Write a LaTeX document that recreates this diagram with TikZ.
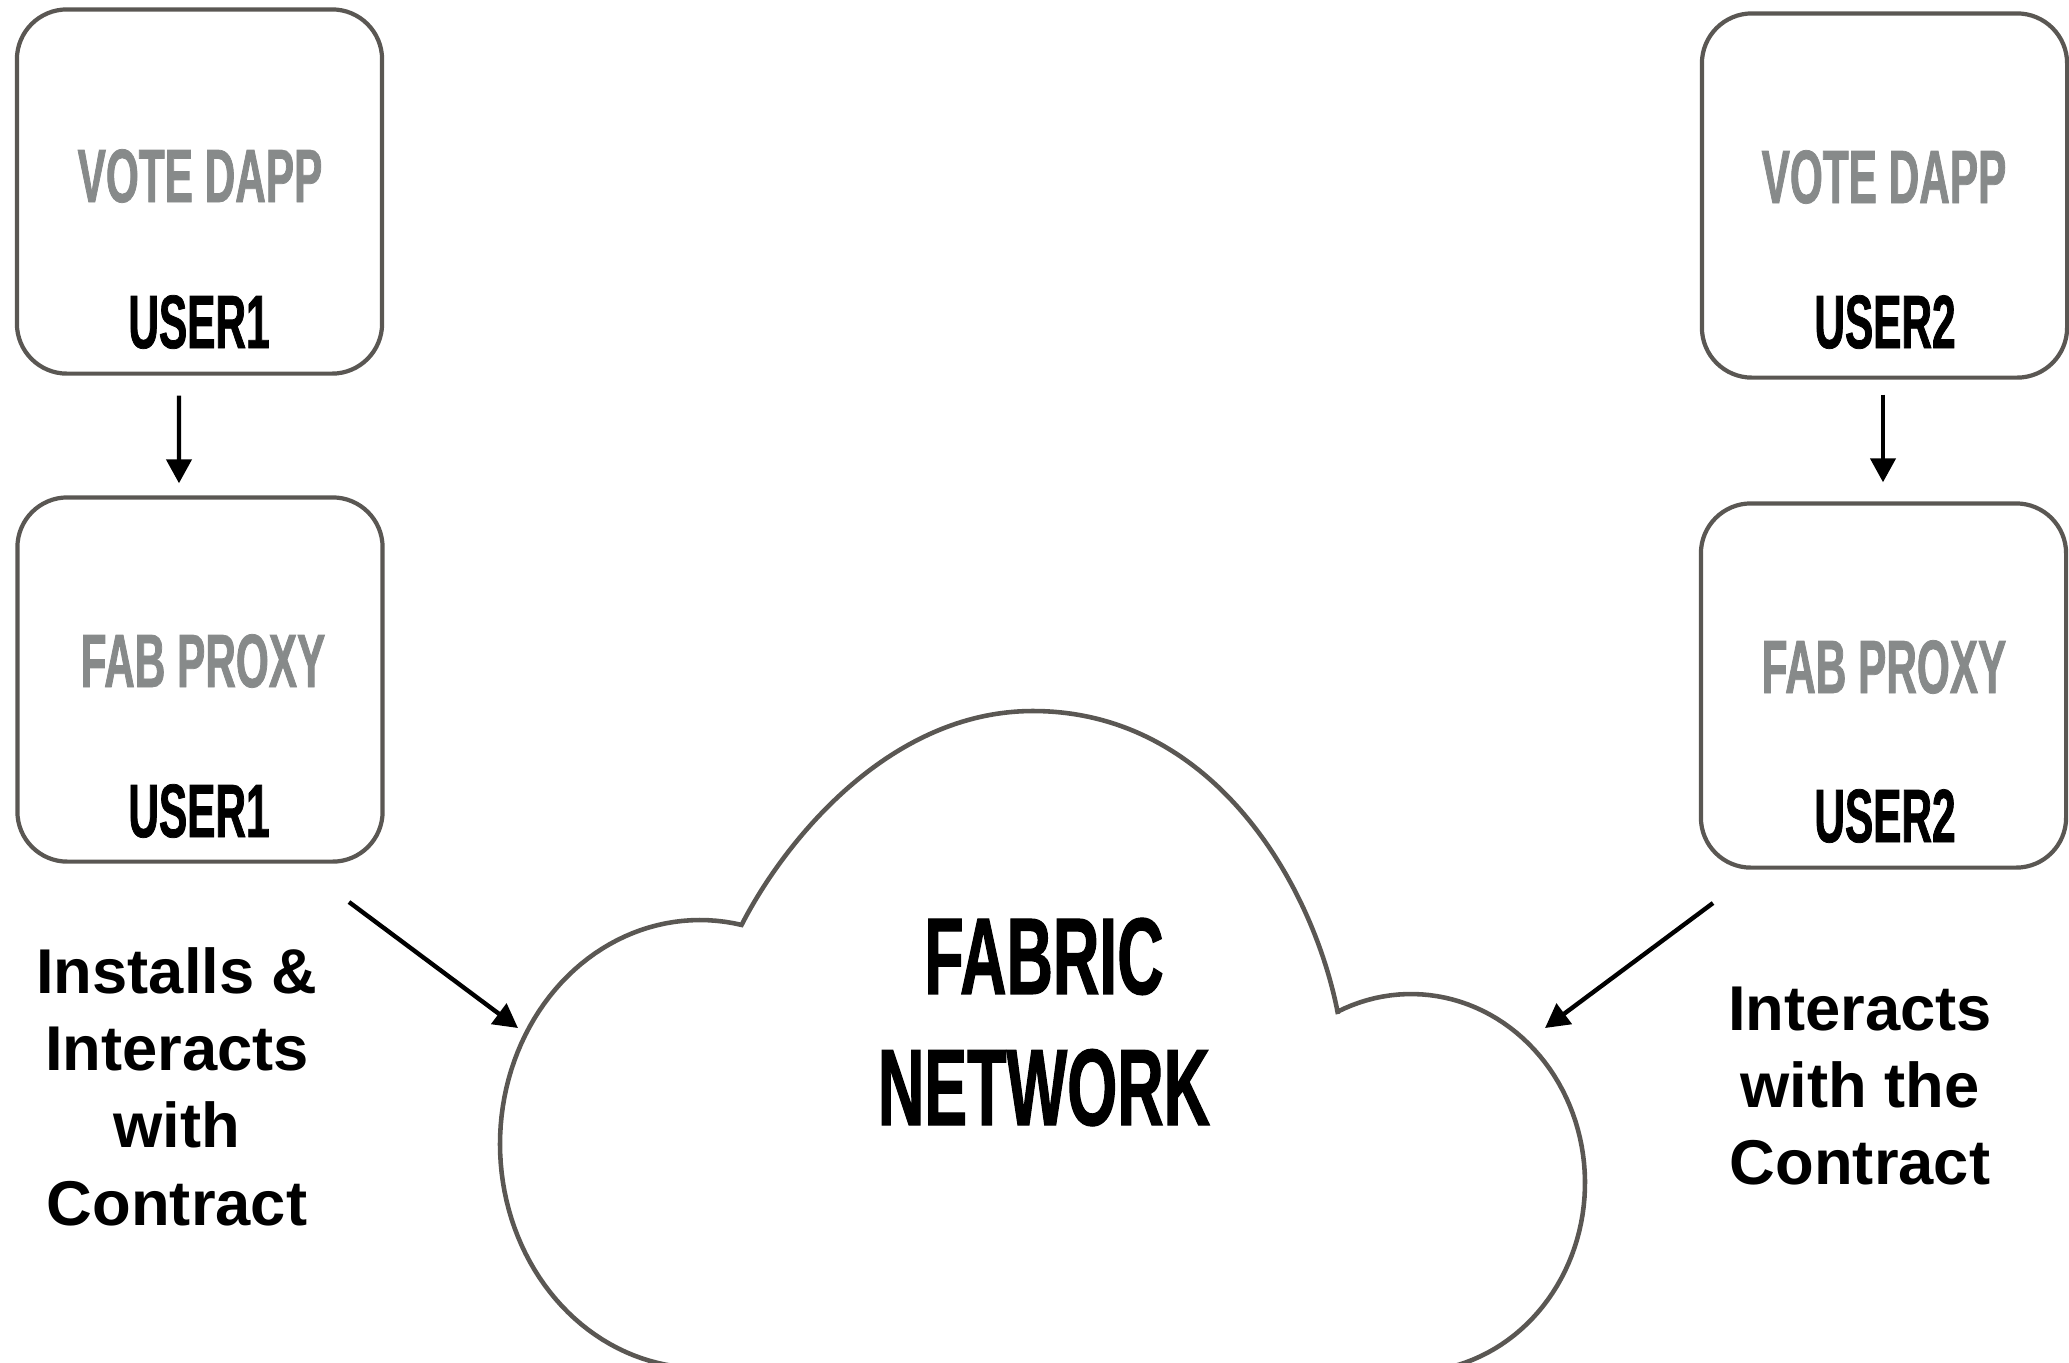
\documentclass[tikz,border=0pt]{standalone}
\usepackage{fontspec}
\usepackage{xcolor}
\usepackage{tikz}
\usetikzlibrary{arrows.meta, positioning}
\setmainfont{Liberation Sans}
\newfontfamily\dinfont{Liberation Sans}[FakeStretch=0.56, FakeBold=1]
\newfontfamily\dinbig{Liberation Sans}[FakeStretch=0.59, FakeBold=1]
\definecolor{boxline}{HTML}{5A5753}
\definecolor{dimgrey}{HTML}{878A8A}

\tikzset{
  appbox/.style={draw=boxline, line width=1.2pt, rounded corners=0.5cm,
    minimum width=3.65cm, minimum height=3.64cm, inner sep=0pt},
  greylbl/.style={font=\dinfont\bfseries\fontsize{21.5}{24}\selectfont,
    text=dimgrey, anchor=base, inner sep=0pt},
  userlbl/.style={font=\dinfont\bfseries\fontsize{21.5}{24}\selectfont,
    anchor=base, inner sep=0pt},
  cloudlbl/.style={font=\dinbig\bfseries\fontsize{31}{37.3}\selectfont,
    align=center, inner sep=0pt},
  note/.style={font=\bfseries\fontsize{18}{22}\selectfont,
    align=center, inner sep=0pt},
  cloudline/.style={draw=boxline, line width=1.3pt},
  flow/.style={-{Triangle[length=0.24cm, width=0.25cm]}, line width=1.25pt},
}

\begin{document}
\begin{tikzpicture}[x=0.01cm, y=-0.01cm]
        \useasboundingbox (0,0) rectangle (2069,1362);
        % User 1 side
        \node[appbox] (dappA) at (199.5,191.5) {};
        \node[greylbl] (dappAname) at (200,202) {VOTE DAPP};
        \node[userlbl] (dappAuser) at (199,348) {USER1};
        \node[appbox] (proxyA) at (200,679.5) {};
        \node[greylbl] (proxyAname) at (203,687) {FAB PROXY};
        \node[userlbl] (proxyAuser) at (199,837) {USER1};
        % User 2 side
        \node[appbox] (dappB) at (1884.5,195.5) {};
        \node[greylbl] (dappBname) at (1884,203) {VOTE DAPP};
        \node[userlbl] (dappBuser) at (1885,348) {USER2};
        \node[appbox] (proxyB) at (1883.5,685.5) {};
        \node[greylbl] (proxyBname) at (1884,693) {FAB PROXY};
        \node[userlbl] (proxyBuser) at (1885,842) {USER2};
        % Fabric network cloud
        \draw[cloudline]
          plot[domain=90:282, samples=80] ({700+200*cos(\x)}, {1144+224*sin(\x)})
          .. controls (785,840) and (890,711) .. (1033,711)
          .. controls (1213,711) and (1313,884) .. (1338,1014)
          -- plot[domain=245:450, samples=80] ({1411+174*cos(\x)}, {1183+189*sin(\x)})
          -- cycle;
        \node[cloudlbl] (fabric) at (1044,1022) {FABRIC\\NETWORK};
        % Notes
        \node[note] (noteA) at (177,1086.5)
          {Installs \&\\Interacts\\with\\Contract};
        \node[note] (noteB) at (1860,1086)
          {Interacts\\with the\\Contract};
        % Arrows
        \coordinate (tailA) at (349,902);
        \coordinate (cloudA) at (518,1028);
        \coordinate (tailB) at (1713,903);
        \coordinate (cloudB) at (1545,1028);
        \draw[flow] ([xshift=-0.205cm, yshift=-0.2cm]dappA.south)
          -- ([xshift=-0.21cm, yshift=0.12cm]proxyA.north);
        \draw[flow] ([xshift=-0.015cm, yshift=-0.15cm]dappB.south)
          -- ([xshift=-0.005cm, yshift=0.19cm]proxyB.north);
        \draw[flow] (tailA) -- (cloudA);
        \draw[flow] (tailB) -- (cloudB);
      \end{tikzpicture}
\end{document}
